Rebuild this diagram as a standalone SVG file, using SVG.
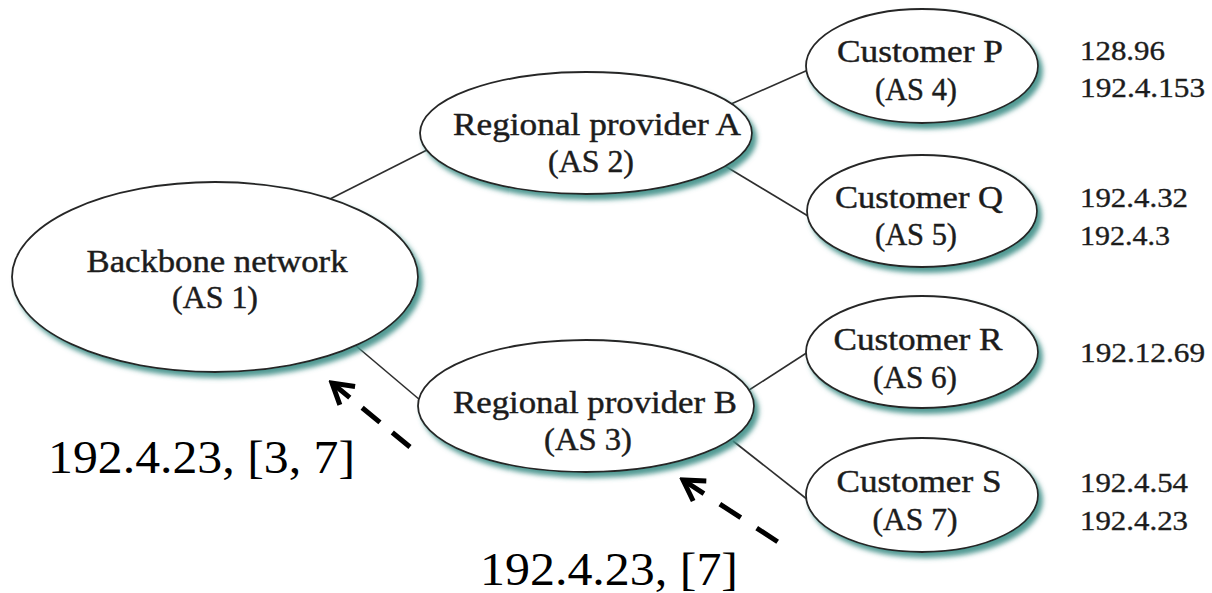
<svg xmlns="http://www.w3.org/2000/svg" width="1212" height="593" viewBox="0 0 1212 593">
  <defs>
    <!-- soft teal drop shadow used by every AS ellipse -->
    <filter id="shadow" x="-10%" y="-15%" width="125%" height="140%">
      <feGaussianBlur in="SourceAlpha" stdDeviation="2.4"/>
      <feOffset dx="4" dy="5" result="blur"/>
      <feFlood flood-color="#3f8f88" flood-opacity="0.9"/>
      <feComposite in2="blur" operator="in"/>
      <feMerge>
        <feMergeNode/>
        <feMergeNode in="SourceGraphic"/>
      </feMerge>
    </filter>
    <!-- open chevron head for the route-advertisement arrows -->
    <marker id="chevron" viewBox="-26 -16 30 32" refX="0" refY="0" markerWidth="30" markerHeight="32" markerUnits="userSpaceOnUse" orient="auto-start-reverse">
      <path d="M -20 -12 L 0 0 L -20 12" fill="none" stroke="#000" stroke-width="5" stroke-dasharray="none" stroke-linejoin="miter"/>
    </marker>
  </defs>
  <style>
    .as { fill: #ffffff; stroke: #262626; stroke-width: 1.8; filter: url(#shadow); }
    .link { stroke: #2e2e2e; stroke-width: 1.6; fill: none; }
    .lbl { font-family: "Liberation Serif", "Times New Roman", serif; font-size: 32px; fill: #1c1c1c; stroke: #1c1c1c; stroke-width: 0.45; text-anchor: middle; }
    .ip { font-family: "Liberation Serif", "Times New Roman", serif; font-size: 27px; fill: #1c1c1c; stroke: #1c1c1c; stroke-width: 0.35; }
    .adv { font-family: "Liberation Serif", "Times New Roman", serif; font-size: 46px; fill: #000; }
    .route { stroke: #000; stroke-width: 5; fill: none; marker-start: url(#chevron); }
  </style>

  <rect width="1212" height="593" fill="#ffffff"/>

  <!-- links between autonomous systems -->
  <g id="connectors">
    <line class="link" x1="330" y1="199" x2="427" y2="150"/>
    <line class="link" x1="355" y1="345" x2="420" y2="400"/>
    <line class="link" x1="731" y1="104" x2="808" y2="70"/>
    <line class="link" x1="725" y1="166" x2="808" y2="216"/>
    <line class="link" x1="746" y1="392" x2="808" y2="352"/>
    <line class="link" x1="733" y1="441" x2="808" y2="500"/>
  </g>

  <g id="as1">
    <ellipse class="as" cx="215" cy="277" rx="203" ry="95"/>
    <text class="lbl" x="217" y="272" textLength="261" lengthAdjust="spacingAndGlyphs">Backbone network</text>
    <text class="lbl" x="215" y="308" textLength="86" lengthAdjust="spacingAndGlyphs">(AS 1)</text>
  </g>

  <g id="as2">
    <ellipse class="as" cx="586" cy="133" rx="166" ry="61"/>
    <text class="lbl" x="597" y="135" textLength="288" lengthAdjust="spacingAndGlyphs">Regional provider A</text>
    <text class="lbl" x="591" y="172" textLength="86" lengthAdjust="spacingAndGlyphs">(AS 2)</text>
  </g>

  <g id="as3">
    <ellipse class="as" cx="586" cy="406" rx="168" ry="66"/>
    <text class="lbl" x="595" y="413" textLength="284" lengthAdjust="spacingAndGlyphs">Regional provider B</text>
    <text class="lbl" x="588" y="450" textLength="88" lengthAdjust="spacingAndGlyphs">(AS 3)</text>
  </g>

  <g id="as4">
    <ellipse class="as" cx="922" cy="66" rx="116" ry="57"/>
    <text class="lbl" x="920" y="62" textLength="166" lengthAdjust="spacingAndGlyphs">Customer P</text>
    <text class="lbl" x="916" y="100" textLength="82" lengthAdjust="spacingAndGlyphs">(AS 4)</text>
    <text class="ip" x="1080" y="60" textLength="85" lengthAdjust="spacingAndGlyphs">128.96</text>
    <text class="ip" x="1080" y="97" textLength="125" lengthAdjust="spacingAndGlyphs">192.4.153</text>
  </g>

  <g id="as5">
    <ellipse class="as" cx="922" cy="211" rx="115" ry="56"/>
    <text class="lbl" x="919" y="208" textLength="168" lengthAdjust="spacingAndGlyphs">Customer Q</text>
    <text class="lbl" x="916" y="245" textLength="82" lengthAdjust="spacingAndGlyphs">(AS 5)</text>
    <text class="ip" x="1080" y="207" textLength="108" lengthAdjust="spacingAndGlyphs">192.4.32</text>
    <text class="ip" x="1080" y="245" textLength="90" lengthAdjust="spacingAndGlyphs">192.4.3</text>
  </g>

  <g id="as6">
    <ellipse class="as" cx="922" cy="352" rx="116" ry="56"/>
    <text class="lbl" x="918" y="350" textLength="169" lengthAdjust="spacingAndGlyphs">Customer R</text>
    <text class="lbl" x="915" y="388" textLength="84" lengthAdjust="spacingAndGlyphs">(AS 6)</text>
    <text class="ip" x="1080" y="362" textLength="125" lengthAdjust="spacingAndGlyphs">192.12.69</text>
  </g>

  <g id="as7">
    <ellipse class="as" cx="922" cy="495" rx="116" ry="57"/>
    <text class="lbl" x="919" y="492" textLength="165" lengthAdjust="spacingAndGlyphs">Customer S</text>
    <text class="lbl" x="915" y="530" textLength="85" lengthAdjust="spacingAndGlyphs">(AS 7)</text>
    <text class="ip" x="1080" y="492" textLength="108" lengthAdjust="spacingAndGlyphs">192.4.54</text>
    <text class="ip" x="1080" y="530" textLength="108" lengthAdjust="spacingAndGlyphs">192.4.23</text>
  </g>

  <!-- route advertisements travelling toward the backbone -->
  <g id="advertisements">
    <path class="route" stroke-dasharray="23 16" d="M 332 383 L 410 447"/>
    <path class="route" stroke-dasharray="25 19" d="M 683 480 L 778 542"/>
    <text class="adv" x="48" y="473" textLength="307" lengthAdjust="spacingAndGlyphs">192.4.23, [3, 7]</text>
    <text class="adv" x="480" y="585" textLength="258" lengthAdjust="spacingAndGlyphs">192.4.23, [7]</text>
  </g>
</svg>
